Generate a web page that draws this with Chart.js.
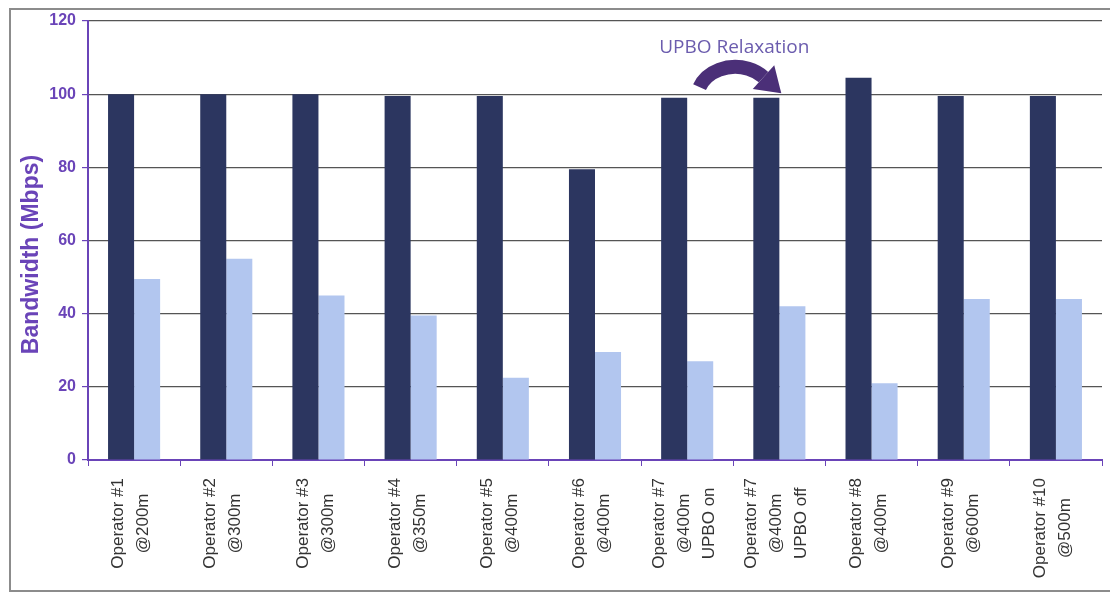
<!DOCTYPE html>
<html>
<head>
<meta charset="utf-8">
<script src="https://cdn.jsdelivr.net/npm/chart.js@4.4.1/dist/chart.umd.min.js"></script>
<style>
  html, body { margin: 0; padding: 0; background: #fff; }
  #wrap { width: 1110px; height: 594px; position: relative; }
</style>
</head>
<body>
<div id="wrap"><canvas id="chart"></canvas></div>
<script>
// category labels, one entry per line of the rotated label
const operators = [
  ['Operator #1', '@200m'],
  ['Operator #2', '@300m'],
  ['Operator #3', '@300m'],
  ['Operator #4', '@350m'],
  ['Operator #5', '@400m'],
  ['Operator #6', '@400m'],
  ['Operator #7', '@400m', 'UPBO on'],
  ['Operator #7', '@400m', 'UPBO off'],
  ['Operator #8', '@400m'],
  ['Operator #9', '@600m'],
  ['Operator #10', '@500m'],
];

const downstream = [100, 100, 100, 99.5, 99.5, 79.5, 99, 99, 104.5, 99.5, 99.5];
const upstream = [49.5, 55, 45, 39.5, 22.5, 29.5, 27, 42, 21, 44, 44];

const yTicks = [0, 20, 40, 60, 80, 100, 120];
const yTitle = 'Bandwidth (Mbps)';
const note = 'UPBO Relaxation';

const PURPLE = '#6a44b8';
const FONT = '"Liberation Sans", Arial, sans-serif';

// white page with the grey border around the figure
const framePlugin = {
  id: 'frame',
  beforeDraw(chart) {
    const { ctx, width, height } = chart;
    ctx.save();
    ctx.fillStyle = '#fff';
    ctx.fillRect(0, 0, width, height);
    ctx.strokeStyle = '#8c8c8c';
    ctx.lineWidth = 2;
    ctx.beginPath();
    ctx.moveTo(width + 5, 9);
    ctx.lineTo(10, 9);
    ctx.lineTo(10, 591);
    ctx.lineTo(width + 5, 591);
    ctx.stroke();
    ctx.restore();
  },
};

// vertical multi-line category labels + rotated y title
const labelPlugin = {
  id: 'rotatedLabels',
  afterDraw(chart) {
    const { ctx, chartArea, scales: { x } } = chart;
    ctx.save();
    ctx.font = '17px ' + FONT;
    ctx.fillStyle = '#333';
    ctx.textAlign = 'center';
    ctx.textBaseline = 'middle';
    operators.forEach((lines, i) => {
      const cx = x.getPixelForValue(i) - 3;
      const widest = Math.max(...lines.map((l) => ctx.measureText(l).width));
      const cy = x.top + 18 + widest / 2;
      lines.forEach((line, j) => {
        ctx.save();
        ctx.translate(cx + (j - (lines.length - 1) / 2) * 25, cy);
        ctx.rotate(-Math.PI / 2);
        ctx.fillText(line, 0, 0);
        ctx.restore();
      });
    });

    ctx.font = 'bold 23px ' + FONT;
    ctx.fillStyle = PURPLE;
    ctx.translate(32, (chartArea.top + chartArea.bottom) / 2 + 14);
    ctx.rotate(-Math.PI / 2);
    ctx.fillText(yTitle, 0, 0);
    ctx.restore();
  },
};

// curved arrow between the two Operator #7 groups
const arrowPlugin = {
  id: 'relaxArrow',
  afterDatasetsDraw(chart) {
    const { ctx, scales: { x, y } } = chart;
    const mid = (x.getPixelForValue(6) + x.getPixelForValue(7)) / 2;
    const cx = mid + 2;
    const cy = y.getPixelForValue(99);
    const rx = 38, ry = 31;
    const a0 = (200 * Math.PI) / 180;
    const a1 = (318 * Math.PI) / 180;

    ctx.save();
    ctx.font = '19px "Open Sans", sans-serif';
    ctx.fillStyle = '#6b5cae';
    ctx.textAlign = 'center';
    ctx.textBaseline = 'middle';
    ctx.fillText(note, mid + 1, y.getPixelForValue(112.8));

    ctx.strokeStyle = '#4b2f78';
    ctx.fillStyle = '#4b2f78';
    ctx.lineWidth = 14;
    ctx.beginPath();
    ctx.ellipse(cx, cy, rx, ry, 0, a0, a1);
    ctx.stroke();

    // head
    const ex = cx + rx * Math.cos(a1);
    const ey = cy + ry * Math.sin(a1);
    let dx = -rx * Math.sin(a1), dy = ry * Math.cos(a1);
    const len = Math.hypot(dx, dy);
    dx /= len; dy /= len;
    ctx.beginPath();
    ctx.moveTo(ex + dx * 24, ey + dy * 24);
    ctx.lineTo(ex - dy * 16, ey + dx * 16);
    ctx.lineTo(ex + dy * 16, ey - dx * 16);
    ctx.closePath();
    ctx.fill();
    ctx.restore();
  },
};

new Chart(document.getElementById('chart'), {
  type: 'bar',
  data: {
    labels: operators,
    datasets: [
      {
        data: downstream,
        backgroundColor: '#2c3660',
        borderWidth: 0,
        categoryPercentage: 0.565,
        barPercentage: 1,
      },
      {
        data: upstream,
        backgroundColor: '#b2c6ef',
        borderWidth: 0,
        categoryPercentage: 0.565,
        barPercentage: 1,
      },
    ],
  },
  plugins: [framePlugin, arrowPlugin, labelPlugin],
  options: {
    responsive: true,
    maintainAspectRatio: false,
    animation: false,
    layout: { padding: { top: 21, right: 8, left: 0, bottom: 0 } },
    plugins: {
      legend: { display: false },
      tooltip: { enabled: false },
    },
    scales: {
      x: {
        afterFit: (scale) => {
          scale.height = 134;
        },
        grid: {
          offset: true,
          drawOnChartArea: false,
          color: PURPLE,
          tickLength: 6,
        },
        border: { color: PURPLE, width: 2 },
        ticks: { display: false },
      },
      y: {
        min: 0,
        max: 120,
        afterFit: (scale) => {
          scale.width = 88;
        },
        afterBuildTicks: (scale) => {
          scale.ticks = yTicks.map((v) => ({ value: v }));
        },
        grid: {
          color: '#555',
          tickColor: PURPLE,
          tickLength: 6,
          lineWidth: 1.2,
        },
        border: { color: PURPLE, width: 2 },
        ticks: {
          padding: 6,
          color: PURPLE,
          font: { family: FONT, size: 16, weight: 'bold' },
        },
      },
    },
  },
});
</script>
</body>
</html>
